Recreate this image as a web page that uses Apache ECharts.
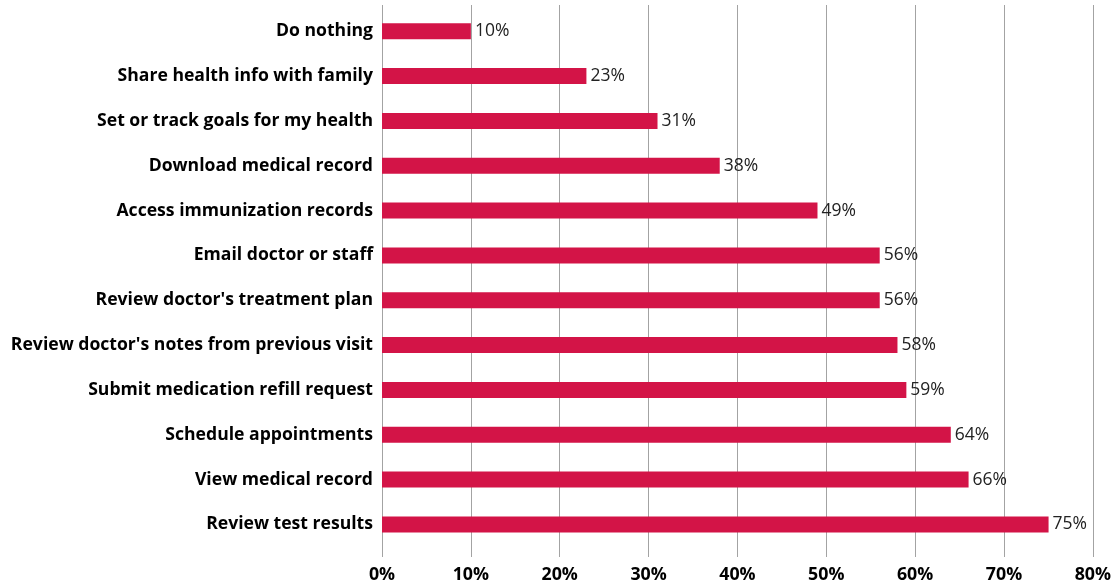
<!DOCTYPE html>
<html>
<head>
<meta charset="utf-8">
<script src="https://cdn.jsdelivr.net/npm/echarts@6/dist/echarts.min.js"></script>
<style>
  html, body { margin: 0; padding: 0; background: #ffffff; }
  #chart { width: 1114px; height: 584px; }
</style>
</head>
<body>
<div id="chart"></div>
<script>
// Patient portal activities, share of respondents (%)
const categories = [
  "Do nothing",
  "Share health info with family",
  "Set or track goals for my health",
  "Download medical record",
  "Access immunization records",
  "Email doctor or staff",
  "Review doctor's treatment plan",
  "Review doctor's notes from previous visit",
  "Submit medication refill request",
  "Schedule appointments",
  "View medical record",
  "Review test results"
];
const shares = [10, 23, 31, 38, 49, 56, 56, 58, 59, 64, 66, 75];
const axisMax = 80;
const axisStep = 10;

const FONT = "'Open Sans', 'Noto Sans', sans-serif";
const GRID_COLOR = "#a3a3a3";
const BAR_COLOR = "#d31447";

const chart = echarts.init(document.getElementById("chart"), null, { renderer: "canvas" });

chart.setOption({
  animation: false,
  backgroundColor: "#ffffff",
  grid: [
    // bars
    { left: 382, width: 711, top: 8.8, height: 538 },
    // gridlines and percentage scale
    { left: 382, width: 711, top: 5, height: 555 }
  ],
  xAxis: [
    {
      gridIndex: 0, type: "value", min: 0, max: axisMax, interval: axisStep,
      show: false
    },
    {
      gridIndex: 1, type: "value", min: 0, max: axisMax, interval: axisStep,
      axisLine: { show: false },
      axisTick: { show: false },
      splitLine: { show: true, lineStyle: { color: GRID_COLOR, width: 1 } },
      axisLabel: {
        formatter: "{value}%",
        fontFamily: FONT, fontWeight: "bold", fontSize: 17.8, color: "#000000",
        margin: 9
      }
    }
  ],
  yAxis: [
    {
      gridIndex: 0, type: "category", data: categories, inverse: true,
      axisLine: { show: false },
      axisTick: { show: false },
      splitLine: { show: false },
      axisLabel: {
        fontFamily: FONT, fontWeight: "bold", fontSize: 17.6, color: "#000000",
        margin: 9
      }
    },
    {
      gridIndex: 1, type: "value", min: 0, max: 1, show: false
    }
  ],
  series: [
    {
      type: "bar",
      xAxisIndex: 0, yAxisIndex: 0,
      data: shares,
      barWidth: 16,
      itemStyle: { color: BAR_COLOR },
      label: {
        show: true, position: "right", distance: 4,
        formatter: "{c}%",
        fontFamily: FONT, fontSize: 17.5, color: "#222222"
      },
      z: 3
    }
  ]
});
</script>
</body>
</html>
